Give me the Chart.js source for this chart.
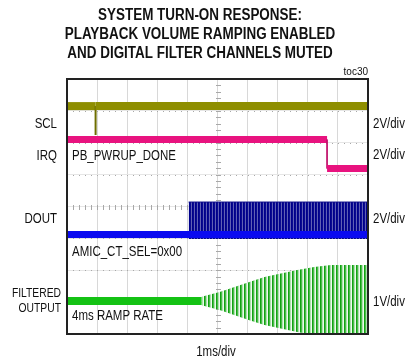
<!DOCTYPE html>
<html>
<head>
<meta charset="utf-8">
<script src="https://cdn.jsdelivr.net/npm/chart.js@4.4.0/dist/chart.umd.min.js"></script>
<style>
  html, body { margin: 0; padding: 0; background: #fff; }
  #wrap { width: 409px; height: 358px; position: relative; }
</style>
</head>
<body>
<div id="wrap"><canvas id="scopeChart"></canvas></div>
<script>
// Scope screen: 10 time divisions (1ms/div), 8 vertical divisions
const timeRange = [0, 10];
const divRange = [0, 8];

// SCL trace (2V/div), with the short glitch near 1ms
const sclTime = [0, 0.95, 0.95, 0.95, 10];
const sclLevel = [7.15, 7.15, 6.24, 7.15, 7.15];

// IRQ trace (2V/div), PB_PWRUP_DONE drops near 8.6ms
const irqTime = [0, 8.64, 8.64, 10];
const irqLevel = [6.10, 6.10, 5.19, 5.19];

// DOUT trace (2V/div): idle level, then data burst
const doutTime = [0, 10];
const doutLevel = [3.12, 3.12];
const burstTime = [4.04, 10];
const burstHigh = [4.14, 4.14];
const burstLow = 2.98;

// FILTERED OUTPUT (1V/div): idle, then 4ms volume ramp envelope
const outIdleTime = [0, 4.47];
const outCenter = 1.035;
const rampTime = [4.47, 5.07, 6.06, 6.56, 7.65, 8.21, 8.77, 10];
const rampAmp = [0.13, 0.28, 0.60, 0.75, 0.97, 1.07, 1.13, 1.13];

// text
const titleLines = ['SYSTEM TURN-ON RESPONSE:', 'PLAYBACK VOLUME RAMPING ENABLED', 'AND DIGITAL FILTER CHANNELS MUTED'];
const channelNames = ['SCL', 'IRQ', 'DOUT', 'FILTERED', 'OUTPUT'];
const channelScales = ['2V/div', '2V/div', '2V/div', '1V/div'];
const notes = ['PB_PWRUP_DONE', 'AMIC_CT_SEL=0x00', '4ms RAMP RATE'];
const timeScale = '1ms/div';
const figId = 'toc30';

const canvas = document.getElementById('scopeChart');
const ctx = canvas.getContext('2d');

function stripes(cols) {
  const c = document.createElement('canvas');
  c.width = cols.length; c.height = 1;
  const g = c.getContext('2d');
  cols.forEach((col, i) => { g.fillStyle = col; g.fillRect(i, 0, 1, 1); });
  return ctx.createPattern(c, 'repeat');
}

const pts = (xs, ys) => xs.map((x, i) => ({ x: x, y: Array.isArray(ys) ? ys[i] : ys }));
const vertical = c => c.p0.parsed.x === c.p1.parsed.x;

const SANS = '"Liberation Sans", Arial, sans-serif';

// the original uses a narrow face, so squeeze the text horizontally
function narrowText(ctx, text, x, y, align, font, squeeze) {
  ctx.save();
  ctx.font = font;
  ctx.textAlign = align;
  ctx.translate(x, y);
  ctx.scale(squeeze, 1);
  ctx.fillText(text, 0, 0);
  ctx.restore();
}

const scopeDecor = {
  id: 'scopeDecor',
  beforeDatasetsDraw(chart) {
    const { ctx, scales: { x, y } } = chart;
    ctx.save();
    // minor dots on horizontal grid lines, ticks on center lines
    ctx.fillStyle = '#a8a8a8';
    for (let d = 1; d < 8; d++) {
      const py = Math.round(y.getPixelForValue(d));
      for (let t = 0; t <= 10; t += 0.2) {
        ctx.fillRect(Math.round(x.getPixelForValue(t)), py, 1, 1);
      }
    }
    const cx = Math.round(x.getPixelForValue(5));
    const cy = Math.round(y.getPixelForValue(4));
    for (let d = 0; d <= 8; d += 0.2) {
      ctx.fillRect(cx - 2, Math.round(y.getPixelForValue(d)), 5, 1);
    }
    for (let t = 0; t <= 10; t += 0.2) {
      ctx.fillRect(Math.round(x.getPixelForValue(t)), cy - 2, 1, 5);
    }
    ctx.restore();
  },
  afterDraw(chart) {
    const { ctx, chartArea: a } = chart;
    ctx.save();
    ctx.strokeStyle = '#222';
    ctx.lineWidth = 2;
    ctx.strokeRect(a.left, a.top, a.right - a.left, a.bottom - a.top);

    ctx.fillStyle = '#111';
    ctx.textBaseline = 'alphabetic';
    titleLines.forEach((t, i) => narrowText(ctx, t, 200, 20 + i * 19, 'center', 'bold 16px ' + SANS, 0.84));

    narrowText(ctx, figId, 368, 75, 'right', '10px ' + SANS, 1);

    const lab = '14px ' + SANS;
    narrowText(ctx, channelNames[0], 57, 128, 'right', lab, 0.82);
    narrowText(ctx, channelNames[1], 57, 160, 'right', lab, 0.82);
    narrowText(ctx, channelNames[2], 57, 223, 'right', lab, 0.82);
    narrowText(ctx, channelNames[3], 61, 297, 'right', '12px ' + SANS, 0.86);
    narrowText(ctx, channelNames[4], 61, 312, 'right', '12px ' + SANS, 0.86);

    narrowText(ctx, channelScales[0], 373, 128, 'left', lab, 0.82);
    narrowText(ctx, channelScales[1], 373, 159, 'left', lab, 0.82);
    narrowText(ctx, channelScales[2], 373, 223, 'left', lab, 0.82);
    narrowText(ctx, channelScales[3], 373, 306, 'left', lab, 0.82);
    narrowText(ctx, notes[0], 72, 160, 'left', lab, 0.82);
    narrowText(ctx, notes[1], 72, 256, 'left', lab, 0.82);
    narrowText(ctx, notes[2], 72, 320, 'left', lab, 0.82);

    narrowText(ctx, timeScale, 216, 356, 'center', lab, 0.82);
    ctx.restore();
  }
};

new Chart(ctx, {
  type: 'line',
  data: {
    datasets: [
      {
        label: 'SCL',
        data: pts(sclTime, sclLevel),
        borderColor: '#8e8e00',
        borderWidth: 8,
        segment: { borderWidth: c => vertical(c) ? 2 : 8, borderColor: c => vertical(c) ? '#6e6e00' : undefined },
        order: 1
      },
      {
        label: 'IRQ',
        data: pts(irqTime, irqLevel),
        borderColor: '#e8137f',
        borderWidth: 7,
        segment: { borderWidth: c => vertical(c) ? 1 : 7, borderColor: c => vertical(c) ? '#c0106a' : undefined },
        order: 1
      },
      {
        label: 'DOUT',
        data: pts(doutTime, doutLevel),
        borderColor: '#0a0af0',
        borderWidth: 7,
        order: 1
      },
      {
        label: 'DOUT burst',
        data: pts(burstTime, burstHigh),
        borderColor: '#10108a',
        borderWidth: 1,
        backgroundColor: stripes(['#00008a', '#0a0a90', '#6060b4']),
        fill: { value: burstLow },
        order: 3
      },
      {
        label: 'FILTERED OUTPUT',
        data: pts(outIdleTime, outCenter),
        borderColor: '#14c214',
        borderWidth: 8,
        order: 1
      },
      {
        label: 'ramp upper',
        data: pts(rampTime, rampTime.map((t, i) => outCenter + rampAmp[i])),
        borderWidth: 0,
        borderColor: 'rgba(0,0,0,0)',
        backgroundColor: stripes(['#12a212', '#4abc4a', '#aee0ae', '#eef8ee']),
        fill: '+1',
        order: 2
      },
      {
        label: 'ramp lower',
        data: pts(rampTime, rampTime.map((t, i) => outCenter - rampAmp[i])),
        borderWidth: 0,
        borderColor: 'rgba(0,0,0,0)',
        fill: false,
        order: 2
      }
    ]
  },
  options: {
    responsive: true,
    maintainAspectRatio: false,
    animation: false,
    clip: 0,
    layout: { padding: { left: 67, right: 41, top: 79, bottom: 24 } },
    elements: { point: { radius: 0 }, line: { tension: 0, borderCapStyle: 'butt' } },
    plugins: { legend: { display: false }, tooltip: { enabled: false }, title: { display: false } },
    scales: {
      x: {
        type: 'linear', min: timeRange[0], max: timeRange[1],
        ticks: { display: false, stepSize: 1 },
        grid: { color: '#d8d8d8', drawTicks: false },
        border: { display: false }
      },
      y: {
        min: divRange[0], max: divRange[1],
        ticks: { display: false, stepSize: 1 },
        grid: { color: '#e6e6e6', drawTicks: false },
        border: { display: false }
      }
    }
  },
  plugins: [scopeDecor]
});
</script>
</body>
</html>
